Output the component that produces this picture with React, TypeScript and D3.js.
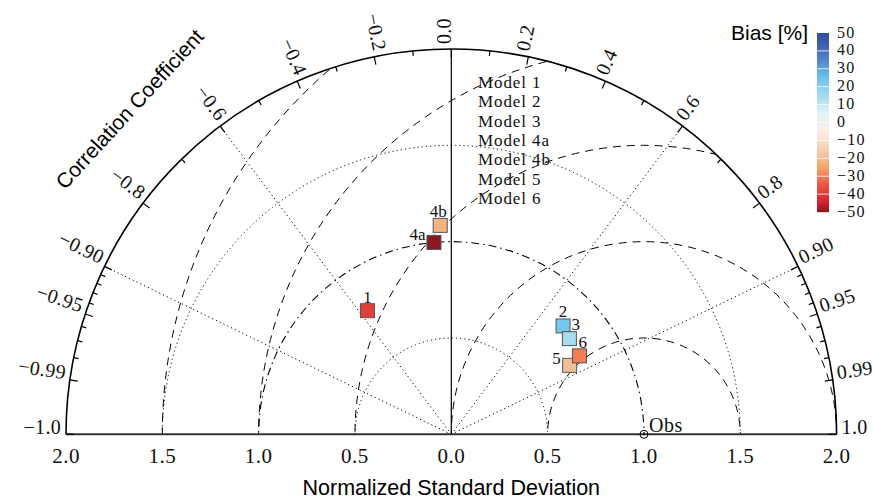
import React, { useEffect, useRef } from 'react';
import * as d3 from 'd3';

// correlation ticks on the outer arc
const corrTicks = [-1, -0.99, -0.95, -0.9, -0.8, -0.6, -0.4, -0.2, 0, 0.2, 0.4, 0.6, 0.8, 0.9, 0.95, 0.99, 1];
const corrTickLabels = ['\u22121.0', '\u22120.99', '\u22120.95', '\u22120.90', '\u22120.8', '\u22120.6', '\u22120.4', '\u22120.2',
  '0.0', '0.2', '0.4', '0.6', '0.8', '0.90', '0.95', '0.99', '1.0'];
const corrMinor = [0.1, 0.3, 0.5, 0.7, 0.91, 0.92, 0.93, 0.94, 0.96, 0.97, 0.98];
const corrLines = [-0.9, -0.6, 0.6, 0.9];

// normalized std axis
const stdTicks = [-2, -1.5, -1, -0.5, 0, 0.5, 1, 1.5, 2];
const stdTickLabels = ['2.0', '1.5', '1.0', '0.5', '0.0', '0.5', '1.0', '1.5', '2.0'];
const stdDotted = [0.5, 1.5];
const stdDashDot = [1.0];
const rmsCircles = [0.5, 1.0, 1.5, 2.0, 2.5];

// models
const modelIds = ['1', '2', '3', '4a', '4b', '5', '6'];
const modelStd = [0.775, 0.808, 0.789, 1.0, 1.086, 0.711, 0.78];
const modelCorr = [-0.561, 0.718, 0.777, -0.09, -0.053, 0.864, 0.853];
const modelBias = [-39, 23, 15, -50, -22, -19, -30];
const legendNames = ['Model 1', 'Model 2', 'Model 3', 'Model 4a', 'Model 4b', 'Model 5', 'Model 6'];

// colorbar
const biasTicks = [50, 40, 30, 20, 10, 0, -10, -20, -30, -40, -50];
const biasColorStops = [50, 45, 35, 25, 15, 5, -5, -15, -25, -35, -45, -50];
const biasColors = ['#30509f', '#3b5aa8', '#5285c8', '#6ec2ee', '#a4dbf0', '#e2f2f8', '#fceee6', '#f4d0b4',
  '#f2a66c', '#ec5444', '#d41e2e', '#8a1820'];

const serif = '"Liberation Serif", serif';
const sans = '"Liberation Sans", Arial, sans-serif';

export default function App() {
  const svgRef = useRef<SVGSVGElement>(null);

  useEffect(() => {
    if (!svgRef.current) return;
    const svg = d3.select(svgRef.current);
    svg.selectAll('*').remove();

    const cx = 451.3;
    const cy = 434.3;
    const R = 385.3;
    const r = d3.scaleLinear().domain([0, 2]).range([0, R]);
    const px = (v: number) => cx + r(v);

    const color = d3.scaleLinear<string>()
      .domain(biasColorStops)
      .range(biasColors)
      .interpolate(d3.interpolateRgb);

    // clip to the half disk
    svg.append('defs')
      .append('clipPath')
      .attr('id', 'half')
      .append('path')
      .attr('d', `M${cx - R},${cy} A${R},${R} 0 0 1 ${cx + R},${cy} Z`);

    const grid = svg.append('g').attr('clip-path', 'url(#half)').attr('fill', 'none').attr('stroke', '#000');

    // RMS difference circles centred on Obs
    grid.selectAll('.rms')
      .data(rmsCircles)
      .enter()
      .append('circle')
      .attr('cx', px(1))
      .attr('cy', cy)
      .attr('r', d => r(d))
      .attr('stroke-width', 1)
      .attr('stroke-dasharray', '8,6');

    // std dev circles
    grid.selectAll('.stdDot')
      .data(stdDotted)
      .enter()
      .append('circle')
      .attr('cx', cx)
      .attr('cy', cy)
      .attr('r', d => r(d))
      .attr('stroke-width', 1)
      .attr('stroke-dasharray', '1.2,3');

    grid.selectAll('.stdDashDot')
      .data(stdDashDot)
      .enter()
      .append('circle')
      .attr('cx', cx)
      .attr('cy', cy)
      .attr('r', d => r(d))
      .attr('stroke-width', 1.1)
      .attr('stroke-dasharray', '8,4,1.5,4');

    // correlation lines
    svg.selectAll('.corrLine')
      .data(corrLines)
      .enter()
      .append('line')
      .attr('x1', cx)
      .attr('y1', cy)
      .attr('x2', d => cx + R * d)
      .attr('y2', d => cy - R * Math.sin(Math.acos(d)))
      .attr('stroke', '#000')
      .attr('stroke-width', 1)
      .attr('stroke-dasharray', '1.2,3');

    // vertical zero-correlation line
    svg.append('line')
      .attr('x1', cx).attr('y1', cy)
      .attr('x2', cx).attr('y2', cy - R)
      .attr('stroke', '#000')
      .attr('stroke-width', 1.2);

    // outer arc
    svg.append('path')
      .attr('d', `M${cx - R},${cy} A${R},${R} 0 0 1 ${cx + R},${cy}`)
      .attr('fill', 'none')
      .attr('stroke', '#000')
      .attr('stroke-width', 1.6);

    // base axis
    svg.append('line')
      .attr('x1', cx - R).attr('y1', cy)
      .attr('x2', cx + R).attr('y2', cy)
      .attr('stroke', '#333')
      .attr('stroke-width', 2);

    // arc ticks
    const tickLine = (c: number, len: number) => {
      const t = Math.acos(c);
      svg.append('line')
        .attr('x1', cx + R * Math.cos(t))
        .attr('y1', cy - R * Math.sin(t))
        .attr('x2', cx + (R - len) * Math.cos(t))
        .attr('y2', cy - (R - len) * Math.sin(t))
        .attr('stroke', '#000')
        .attr('stroke-width', 1.2);
    };
    corrTicks.forEach(c => tickLine(c, 8));
    corrMinor.forEach(c => { tickLine(c, 5); tickLine(-c, 5); });

    // arc tick labels
    corrTicks.forEach((c, i) => {
      const t = Math.acos(c);
      const deg = (t * 180) / Math.PI;
      const gap = 5;
      const x = cx + (R + gap) * Math.cos(t);
      const y = cy - (R + gap) * Math.sin(t);
      const right = c >= 0;
      svg.append('text')
        .attr('transform', `translate(${x},${y}) rotate(${right ? -deg : 180 - deg})`)
        .attr('text-anchor', right ? 'start' : 'end')
        .style('font-family', serif)
        .style('font-size', '20px')
        .style('letter-spacing', '0.3px')
        .attr('fill', '#111')
        .text(corrTickLabels[i]);
    });

    // std axis labels
    svg.selectAll('.stdLab')
      .data(stdTicks)
      .enter()
      .append('text')
      .attr('x', d => px(d))
      .attr('y', 463)
      .attr('text-anchor', 'middle')
      .style('font-family', serif)
      .style('font-size', '21px')
      .style('letter-spacing', '0.5px')
      .attr('fill', '#111')
      .text((_, i) => stdTickLabels[i]);

    // axis titles
    svg.append('text')
      .attr('x', cx)
      .attr('y', 495)
      .attr('text-anchor', 'middle')
      .style('font-family', sans)
      .style('font-size', '21.5px')
      .text('Normalized Standard Deviation');

    svg.append('text')
      .attr('transform', 'translate(135,114) rotate(-47.5)')
      .attr('text-anchor', 'middle')
      .style('font-family', sans)
      .style('font-size', '21px')
      .text('Correlation Coefficient');

    // Obs point
    svg.append('circle')
      .attr('cx', px(1)).attr('cy', cy).attr('r', 4)
      .attr('fill', 'none').attr('stroke', '#000').attr('stroke-width', 1);
    svg.append('circle')
      .attr('cx', px(1)).attr('cy', cy).attr('r', 1)
      .attr('fill', '#000');
    svg.append('text')
      .attr('x', px(1) + 5)
      .attr('y', 432)
      .style('font-family', serif)
      .style('font-size', '20px')
      .style('letter-spacing', '0.5px')
      .attr('fill', '#111')
      .text('Obs');

    // legend text
    svg.selectAll('.legend')
      .data(legendNames)
      .enter()
      .append('text')
      .attr('x', 478)
      .attr('y', (_, i) => 88 + i * 19.35)
      .style('font-family', serif)
      .style('font-size', '17px')
      .style('letter-spacing', '0.9px')
      .attr('fill', '#111')
      .text(d => d);

    // model markers
    const labelPlace: Record<string, [number, number, string]> = {
      '1': [0, -8, 'middle'],
      '2': [0, -9, 'middle'],
      '3': [2, -8.5, 'start'],
      '4a': [-8.5, -2, 'end'],
      '4b': [-2, -8, 'middle'],
      '5': [-9, -1, 'end'],
      '6': [-1, -8, 'start'],
    };
    const size = 14;
    modelIds.forEach((id, i) => {
      const t = Math.acos(modelCorr[i]);
      const mx = cx + r(modelStd[i]) * Math.cos(t);
      const my = cy - r(modelStd[i]) * Math.sin(t);
      svg.append('rect')
        .attr('x', mx - size / 2)
        .attr('y', my - size / 2)
        .attr('width', size)
        .attr('height', size)
        .attr('fill', color(modelBias[i]))
        .attr('stroke', '#555')
        .attr('stroke-width', 1);
      const [dx, dy, anchor] = labelPlace[id];
      svg.append('text')
        .attr('x', mx + dx)
        .attr('y', my + dy)
        .attr('text-anchor', anchor)
        .style('font-family', serif)
        .style('font-size', '17px')
        .attr('fill', '#111')
        .text(id);
    });

    // colorbar
    const barX = 817;
    const barW = 12;
    const yBar = d3.scaleLinear().domain([50, -50]).range([33, 212]);
    const bar = svg.append('g');
    for (let y = 33; y < 212; y++) {
      bar.append('rect')
        .attr('x', barX)
        .attr('y', y)
        .attr('width', barW)
        .attr('height', 1.2)
        .attr('fill', color(yBar.invert(y + 0.5)));
    }
    bar.selectAll('.sep')
      .data(biasTicks.slice(1, -1))
      .enter()
      .append('line')
      .attr('x1', barX).attr('x2', barX + barW)
      .attr('y1', d => yBar(d)).attr('y2', d => yBar(d))
      .attr('stroke', '#fff')
      .attr('stroke-opacity', 0.8)
      .attr('stroke-width', 1);

    svg.selectAll('.biasLab')
      .data(biasTicks)
      .enter()
      .append('text')
      .attr('x', 837)
      .attr('y', d => yBar(d) - 1)
      .attr('dominant-baseline', 'central')
      .style('font-family', serif)
      .style('font-size', '16px')
      .style('letter-spacing', '1.2px')
      .attr('fill', '#111')
      .text(d => (d < 0 ? `\u2212${Math.abs(d)}` : `${d}`));

    svg.append('text')
      .attr('x', 808)
      .attr('y', 40)
      .attr('text-anchor', 'end')
      .style('font-family', sans)
      .style('font-size', '21px')
      .text('Bias [%]');
  }, []);

  return (
    <div style={{ position: 'absolute', left: 0, top: 0 }}>
      <svg ref={svgRef} width={874} height={501} style={{ display: 'block', background: '#fff' }} />
    </div>
  );
}
